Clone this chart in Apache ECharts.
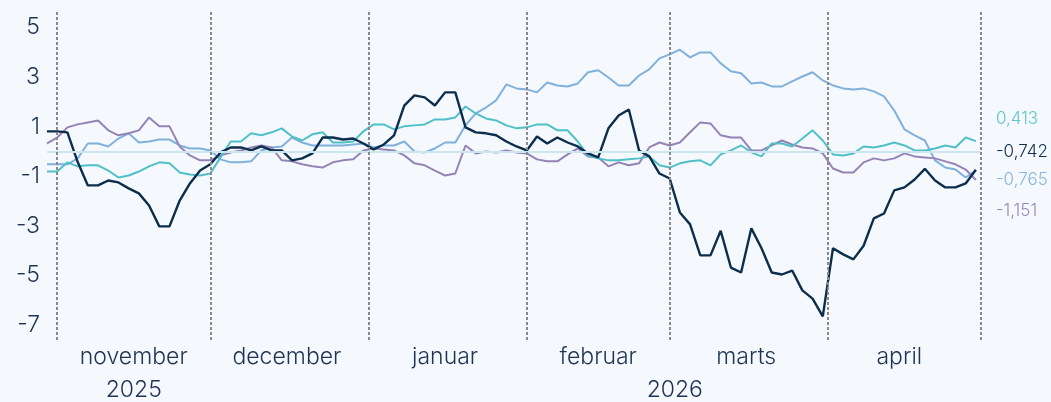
<!DOCTYPE html>
<html>
<head>
<meta charset="utf-8">
<script src="https://cdn.jsdelivr.net/npm/echarts@6/dist/echarts.min.js"></script>
<style>
  html, body { margin: 0; padding: 0; background: #f5f9fd; }
  #chart { width: 1051px; height: 402px; }
</style>
</head>
<body>
<div id="chart"></div>
<script>
// x axis: every second day from 30 oct 2025
var startDate = '2025-10-30';
var stepDays = 2;

var monthStarts = ['2025-11-01', '2025-12-01', '2026-01-01', '2026-02-01', '2026-03-01', '2026-04-01', '2026-05-01'];
var monthTicks = ['2025-11-16', '2025-12-16', '2026-01-16', '2026-02-15', '2026-03-16', '2026-04-15'];
var monthNames = ['november', 'december', 'januar', 'februar', 'marts', 'april'];
var yearTicks = ['2025-11-16', '2026-03-02'];
var yearNames = ['2025', '2026'];
var yTicks = [-7, -5, -3, -1, 1, 3, 5];

var darkSeries = [0.81,0.81,0.77,-0.42,-1.37,-1.37,-1.17,-1.25,-1.49,-1.69,
  -2.18,-3.02,-3.02,-1.98,-1.29,-0.77,-0.52,-0.04,0.16,0.16,
  0.04,0.2,0.04,0.04,-0.36,-0.28,-0.08,0.56,0.56,0.48,
  0.52,0.32,0.08,0.28,0.65,1.85,2.26,2.18,1.85,2.38,
  2.38,0.97,0.77,0.73,0.65,0.4,0.2,0.04,0.6,0.32,
  0.56,0.36,0.2,-0.08,-0.24,0.93,1.45,1.69,0.04,-0.2,
  -0.89,-1.09,-2.46,-2.94,-4.19,-4.19,-3.2,-4.68,-4.88,-3.1,
  -3.9,-4.88,-4.96,-4.8,-5.6,-5.93,-6.65,-3.9,-4.15,-4.35,
  -3.8,-2.7,-2.5,-1.57,-1.45,-1.13,-0.7,-1.17,-1.45,-1.45,
  -1.29,-0.742];

var lightBlueSeries = [-0.52,-0.52,-0.52,-0.28,0.32,0.32,0.2,0.52,0.73,0.36,
  0.4,0.48,0.48,0.24,0.12,0.12,0.04,-0.32,-0.44,-0.44,
  -0.4,0.04,0.16,0.2,0.56,0.36,0.24,0.24,0.24,0.24,
  0.28,0.32,0.16,0.24,0.24,0.4,0,-0.04,0.12,0.36,
  0.36,1.05,1.53,1.77,2.06,2.7,2.54,2.5,2.38,2.78,
  2.66,2.62,2.74,3.19,3.27,2.98,2.66,2.66,3.06,3.31,
  3.75,3.91,4.1,3.79,3.99,3.99,3.55,3.23,3.15,2.74,
  2.78,2.62,2.62,2.82,3.02,3.19,2.86,2.66,2.54,2.5,
  2.54,2.42,2.22,1.65,0.89,0.65,0.44,-0.36,-0.65,-0.73,
  -1.05,-0.765];

var cyanSeries = [-0.81,-0.81,-0.44,-0.6,-0.56,-0.56,-0.77,-1.05,-0.97,-0.81,
  -0.6,-0.44,-0.48,-0.85,-0.93,-0.97,-0.89,-0.24,0.4,0.4,
  0.73,0.65,0.77,0.93,0.6,0.44,0.69,0.77,0.36,0.36,
  0.4,0.81,1.09,1.09,0.89,1.01,1.05,1.09,1.29,1.29,
  1.37,1.81,1.53,1.33,1.25,1.05,0.93,0.97,1.09,1.09,
  0.85,0.85,0.4,-0.16,-0.28,-0.36,-0.36,-0.32,-0.28,-0.2,
  -0.56,-0.65,-0.48,-0.4,-0.36,-0.56,-0.12,0.04,0.24,-0.04,
  -0.2,0.32,0.32,0.2,0.52,0.85,0.44,-0.12,-0.16,-0.08,
  0.2,0.16,0.24,0.36,0.24,0.04,0.04,0.12,0.24,0.16,
  0.56,0.413];

var purpleSeries = [0.32,0.56,0.97,1.09,1.17,1.25,0.85,0.65,0.73,0.85,
  1.37,1.01,1.01,0.2,-0.16,-0.36,-0.36,-0.16,-0.04,0.04,
  0.16,0.24,0.16,-0.36,-0.4,-0.52,-0.6,-0.65,-0.44,-0.36,
  -0.32,0.04,0.12,0.08,0.04,-0.16,-0.48,-0.56,-0.77,-0.97,
  -0.89,0.24,-0.08,0,-0.04,0.04,-0.04,-0.08,-0.32,-0.4,
  -0.4,-0.12,0.12,-0.2,-0.24,-0.6,-0.44,-0.56,-0.48,0.16,
  0.36,0.24,0.36,0.77,1.17,1.13,0.65,0.56,0.56,0.04,
  0.04,0.24,0.44,0.28,0.16,0.12,-0.08,-0.69,-0.85,-0.85,
  -0.44,-0.28,-0.36,-0.28,-0.08,-0.2,-0.24,-0.28,-0.4,-0.52,
  -0.73,-1.151];

function toTime(s) {
  var p = s.split('-');
  return Date.UTC(+p[0], +p[1] - 1, +p[2]);
}

var dates = [];
for (var i = 0; i < darkSeries.length; i++) {
  dates.push(toTime(startDate) + i * stepDays * 86400000);
}

function pairs(values) {
  return values.map(function (v, i) { return [dates[i], v]; });
}

function endLabel(color, dy) {
  return {
    show: true,
    distance: 20,
    offset: [0, dy],
    color: color,
    fontFamily: 'Inter',
    fontWeight: 300,
    fontSize: 17,
    formatter: function (p) { return String(p.value[1]).replace('.', ','); }
  };
}

function lookupLabel(ticks, names) {
  var times = ticks.map(toTime);
  return function (v) {
    var idx = times.indexOf(v);
    return idx >= 0 ? names[idx] : '';
  };
}

var fontName = 'Inter';
var navy = '#1e3354';
var xMin = toTime('2025-10-30');
var xMax = toTime('2026-05-01');

var chart = echarts.init(document.getElementById('chart'));

var option = {
  backgroundColor: '#f5f9fd',
  animation: false,
  grid: {
    left: 47,
    right: 70,
    top: 10,
    bottom: 62,
    outerBoundsMode: 'none'
  },
  xAxis: [{
    type: 'value',
    min: xMin,
    max: xMax,
    axisLine: { show: false },
    axisTick: { show: false },
    splitLine: { show: false },
    axisLabel: {
      customValues: monthTicks.map(toTime),
      margin: 6,
      color: navy,
      fontFamily: fontName,
      fontWeight: 300,
      fontSize: 23,
      formatter: lookupLabel(monthTicks, monthNames)
    }
  }, {
    type: 'value',
    position: 'bottom',
    offset: 33,
    min: xMin,
    max: xMax,
    axisLine: { show: false },
    axisTick: { show: false },
    splitLine: { show: false },
    axisLabel: {
      customValues: yearTicks.map(toTime),
      margin: 6,
      color: navy,
      fontFamily: fontName,
      fontWeight: 300,
      fontSize: 23,
      formatter: lookupLabel(yearTicks, yearNames)
    }
  }],
  yAxis: {
    type: 'value',
    min: -7.6,
    max: 5.7,
    axisLine: { show: false },
    axisTick: { show: false },
    splitLine: { show: false },
    axisLabel: {
      customValues: yTicks,
      margin: 7,
      color: navy,
      fontFamily: fontName,
      fontWeight: 300,
      fontSize: 23
    }
  },
  series: [{
    name: 'lightblue',
    type: 'line',
    data: pairs(lightBlueSeries),
    showSymbol: false,
    lineStyle: { color: '#7fb1dc', width: 2 },
    itemStyle: { color: '#7fb1dc' },
    endLabel: endLabel('#86b6e0', 9),
    markLine: {
      silent: true,
      symbol: 'none',
      label: { show: false },
      data: [{
        yAxis: 0,
        lineStyle: { color: '#cce6f0', width: 2, type: 'solid' }
      }].concat(monthStarts.map(function (d) {
        return { xAxis: toTime(d), lineStyle: { color: '#8a8a8a', width: 2, type: [3, 2] } };
      }))
    }
  }, {
    name: 'purple',
    type: 'line',
    data: pairs(purpleSeries),
    showSymbol: false,
    lineStyle: { color: '#9683b6', width: 2 },
    itemStyle: { color: '#9683b6' },
    endLabel: endLabel('#9a88ba', 31)
  }, {
    name: 'cyan',
    type: 'line',
    data: pairs(cyanSeries),
    showSymbol: false,
    lineStyle: { color: '#4fc0c8', width: 2 },
    itemStyle: { color: '#4fc0c8' },
    endLabel: endLabel('#5cc7cd', -22)
  }, {
    name: 'dark',
    type: 'line',
    data: pairs(darkSeries),
    showSymbol: false,
    lineStyle: { color: '#0c2e4c', width: 2.4 },
    itemStyle: { color: '#0c2e4c' },
    endLabel: endLabel('#0c2e4c', -18)
  }]
};

chart.setOption(option);
</script>
</body>
</html>
